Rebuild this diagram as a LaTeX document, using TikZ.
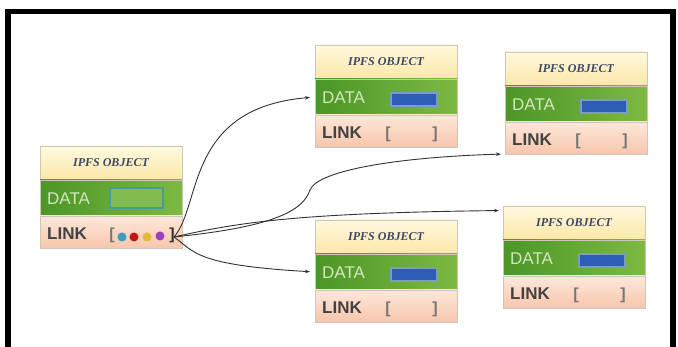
\documentclass[tikz,border=0pt]{standalone}
\usepackage{fontspec}
\setmainfont{Liberation Serif}
\newfontfamily\lsans{Liberation Sans}
\usetikzlibrary{arrows.meta}
\definecolor{hdrtop}{HTML}{FFF9DE}
\definecolor{hdrbot}{HTML}{FBE8A6}
\definecolor{dataleft}{HTML}{4C9627}
\definecolor{dataright}{HTML}{7CB943}
\definecolor{linktop}{HTML}{FDE7DA}
\definecolor{linkbot}{HTML}{F7C6AC}
\definecolor{bandline}{HTML}{CFC6B8}
\definecolor{hdrtext}{HTML}{3A4766}
\definecolor{datatext}{HTML}{D3E6BE}
\definecolor{linktext}{HTML}{424242}
\definecolor{slotblue}{HTML}{2E5DB5}
\definecolor{slotedge}{HTML}{7B9BC8}
\definecolor{slotteal}{HTML}{4A9A98}
\definecolor{slotgreen}{HTML}{80BC50}
\definecolor{brkgray}{HTML}{767676}
\definecolor{connc}{HTML}{333333}
\definecolor{dotblue}{HTML}{3A9CC4}
\definecolor{dotred}{HTML}{C0161C}
\definecolor{dotyellow}{HTML}{E8B838}
\definecolor{dotpurple}{HTML}{9B3FC1}
\newcommand\ipfsobj[3]{%
  \node[hdrband, anchor=north west] (#1-h) at (#2,#3) {IPFS OBJECT};
  \node[databand, anchor=north] (#1-d) at (#1-h.south) {};
  \node[linkband, anchor=north] (#1-l) at (#1-d.south) {};
  \node[datatxt] (#1-dt) at (#2+7,#3+58.5) {DATA};
  \node[linktxt] (#1-lt) at (#2+7,#3+94) {LINK};
}
\newcommand\ipfsfull[3]{%
  \ipfsobj{#1}{#2}{#3}
  \node[blueslot] (#1-s) at (#2+99,#3+54.5) {};
  \node[brk] (#1-lb) at (#2+73,#3+89) {[};
  \node[brk] (#1-rb) at (#2+120,#3+89) {]};
}
\begin{document}
\begin{tikzpicture}[x=1pt,y=-1pt,
  band/.style={minimum width=142pt, inner sep=0pt, outer sep=0pt, draw=bandline, line width=0.6pt},
  hdrband/.style={band, minimum height=34pt, top color=hdrtop, bottom color=hdrbot,
    font=\fontsize{12}{12}\selectfont\bfseries\itshape, text=hdrtext},
  databand/.style={band, minimum height=36pt, left color=dataleft, right color=dataright},
  linkband/.style={band, minimum height=32pt, top color=linktop, bottom color=linkbot},
  datatxt/.style={anchor=base west, inner sep=0pt, font=\lsans\fontsize{17}{17}\selectfont, text=datatext},
  linktxt/.style={anchor=base west, inner sep=0pt, font=\lsans\bfseries\fontsize{17}{17}\selectfont, text=linktext},
  blueslot/.style={minimum width=46pt, minimum height=13pt, inner sep=0pt, fill=slotblue, draw=slotedge, line width=1.2pt},
  greenslot/.style={minimum width=53pt, minimum height=20pt, inner sep=0pt, fill=slotgreen, draw=slotteal, line width=1.2pt},
  brk/.style={inner sep=0pt, font=\lsans\bfseries\fontsize{16}{16}\selectfont, text=brkgray},
  ldot/.style={circle, inner sep=0pt, minimum size=9pt},
  conn/.style={draw=connc, line width=0.9pt, -{Stealth[length=5pt,width=3.5pt]}}
]
\useasboundingbox (0,0) rectangle (678,347);
\fill[white] (0,0) rectangle (678,347);
\draw[line width=5.5pt, line join=miter] (8,347) -- (8,11.5) -- (673,11.5) -- (673,347);

% main object
\ipfsobj{A}{40}{146}
\node[greenslot] (A-s) at (136.5,198) {};
\node[brk] (A-lb) at (112,235) {[};
\node[brk, text=connc] (A-rb) at (172,235) {]};
\node[ldot, fill=dotblue] (A-c1) at (122,237) {};
\node[ldot, fill=dotred] (A-c2) at (134,237) {};
\node[ldot, fill=dotyellow] (A-c3) at (147,237) {};
\node[ldot, fill=dotpurple] (A-c4) at (160,236) {};
\coordinate (A-out) at (174,237);

% linked objects
\ipfsfull{B}{315}{45}
\ipfsfull{C}{505}{52}
\ipfsfull{D}{315}{220}
\ipfsfull{E}{503}{206}

% connectors
\draw[conn, shorten >=5pt] (A-out) .. controls (202,205) and (185,108) .. (B-d.west);
\draw[conn, shorten >=4pt] (A-out) .. controls (260,228) and (302,215) .. (310,190)
   .. controls (318,170) and (400,157) .. (C-l.south west);
\draw[conn, shorten >=4pt] (A-out) .. controls (240,222) and (300,213) .. (E-h.170);
\draw[conn, shorten >=5pt] (A-out) .. controls (195,252) and (195,265) .. (D-d.west);
\end{tikzpicture}
\end{document}
